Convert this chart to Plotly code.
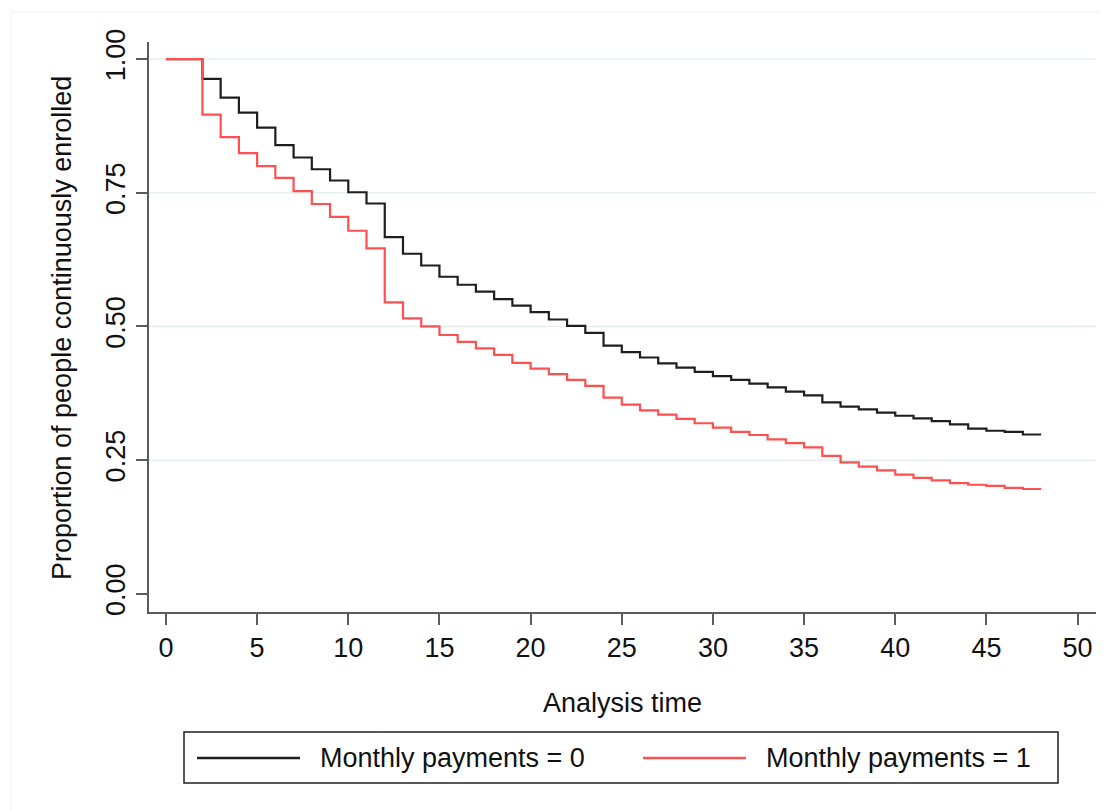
import plotly.graph_objects as go

# ---- data ----
time = list(range(0, 49))
surv_monthly0 = [1.000, 1.000, 0.963, 0.928, 0.900, 0.872, 0.839, 0.816, 0.794, 0.773,
                 0.751, 0.730, 0.667, 0.636, 0.614, 0.593, 0.578, 0.565, 0.551, 0.539,
                 0.527, 0.513, 0.501, 0.488, 0.464, 0.452, 0.442, 0.431, 0.423, 0.415,
                 0.407, 0.400, 0.393, 0.386, 0.378, 0.371, 0.358, 0.350, 0.345, 0.339,
                 0.333, 0.328, 0.323, 0.317, 0.309, 0.305, 0.303, 0.298, 0.298]
surv_monthly1 = [1.000, 1.000, 0.896, 0.854, 0.824, 0.800, 0.778, 0.753, 0.729, 0.705,
                 0.679, 0.646, 0.545, 0.515, 0.500, 0.484, 0.471, 0.459, 0.447, 0.432,
                 0.421, 0.411, 0.400, 0.389, 0.367, 0.354, 0.343, 0.335, 0.327, 0.319,
                 0.311, 0.303, 0.297, 0.289, 0.282, 0.274, 0.258, 0.246, 0.238, 0.231,
                 0.223, 0.217, 0.212, 0.207, 0.204, 0.202, 0.198, 0.196, 0.196]
series_names = ["Monthly payments = 0", "Monthly payments = 1"]
series_colors = ["#1e1e1e", "#ff5050"]
x_ticks = [0, 5, 10, 15, 20, 25, 30, 35, 40, 45, 50]
y_ticks = [0.0, 0.25, 0.5, 0.75, 1.0]
y_tick_text = ["0.00", "0.25", "0.50", "0.75", "1.00"]
x_title = "Analysis time"
y_title = "Proportion of people continuously enrolled"

FONT = "Liberation Sans, Arial, sans-serif"
FS = 27
OFF = 8  # page body margin offset
W, H = 1108 - OFF, 810 - OFF
PL, PR_, PT, PB = 149, 1096, 42, 612  # plot area in screen pixels
L, T = PL - OFF, PT - OFF
PW, PH = PR_ - PL, PB - PT
R, B = W - L - PW, H - T - PH

def px_x(px):
    return (px - PL) / PW

def px_y(py):
    return (PB - py) / PH

fig = go.Figure()
for vals, name, col in zip([surv_monthly0, surv_monthly1], series_names, series_colors):
    fig.add_trace(go.Scatter(x=time, y=vals, mode="lines", name=name,
                             line=dict(shape="hv", color=col, width=2.2),
                             showlegend=False))

# gridlines (not at 0)
for yv in y_ticks[1:]:
    fig.add_shape(type="line", xref="paper", yref="y", x0=0, x1=1, y0=yv, y1=yv,
                  line=dict(color="#e6eef0", width=1.5), layer="below")

axis_col = "#5a5a5a"
fig.update_xaxes(range=[-0.93, 51.01], tickvals=x_ticks, ticks="outside", ticklen=11,
                 tickwidth=1.5, tickcolor=axis_col, showline=True, linecolor=axis_col,
                 linewidth=1.5, showgrid=False, zeroline=False,
                 tickfont=dict(family=FONT, size=FS, color="#111"))
fig.update_yaxes(range=[-0.034, 1.032], tickvals=y_ticks, ticktext=y_tick_text,
                 ticks="outside", ticklen=11, tickwidth=1.5, tickcolor=axis_col,
                 showline=True, linecolor=axis_col, linewidth=1.5, showgrid=False,
                 zeroline=False, tickangle=-90,
                 tickfont=dict(family=FONT, size=FS, color="#111"))

annotations = [
    dict(text=x_title, xref="paper", yref="paper", x=px_x(622), y=px_y(703),
         xanchor="center", yanchor="middle", showarrow=False,
         font=dict(family=FONT, size=FS, color="#111")),
    dict(text=y_title, xref="paper", yref="paper", x=px_x(62), y=px_y(328),
         xanchor="center", yanchor="middle", showarrow=False, textangle=-90,
         font=dict(family=FONT, size=FS, color="#111")),
]

# manual legend box
shapes = [
    dict(type="rect", xref="paper", yref="paper", x0=px_x(184), x1=px_x(1058),
         y0=px_y(783), y1=px_y(732), line=dict(color="#222", width=1.5),
         fillcolor="white"),
    dict(type="rect", xref="paper", yref="paper", x0=px_x(11), x1=px_x(1120),
         y0=px_y(830), y1=px_y(12), line=dict(color="#f2f2f2", width=1), layer="below"),
]
legend_items = [(197, 300, 318), (643, 746, 764)]
for (lx0, lx1, tx), name, col in zip(legend_items, series_names, series_colors):
    shapes.append(dict(type="line", xref="paper", yref="paper", x0=px_x(lx0), x1=px_x(lx1),
                       y0=px_y(758), y1=px_y(758), line=dict(color=col, width=2.5)))
    annotations.append(dict(text=name, xref="paper", yref="paper", x=px_x(tx), y=px_y(758),
                            xanchor="left", yanchor="middle", showarrow=False,
                            font=dict(family=FONT, size=FS, color="#111")))

fig.update_layout(width=W, height=H, margin=dict(l=L, r=R, t=T, b=B, autoexpand=False),
                  paper_bgcolor="white", plot_bgcolor="white",
                  annotations=annotations, shapes=fig.layout.shapes + tuple(shapes),
                  showlegend=False)

fig.write_html("out.html")
